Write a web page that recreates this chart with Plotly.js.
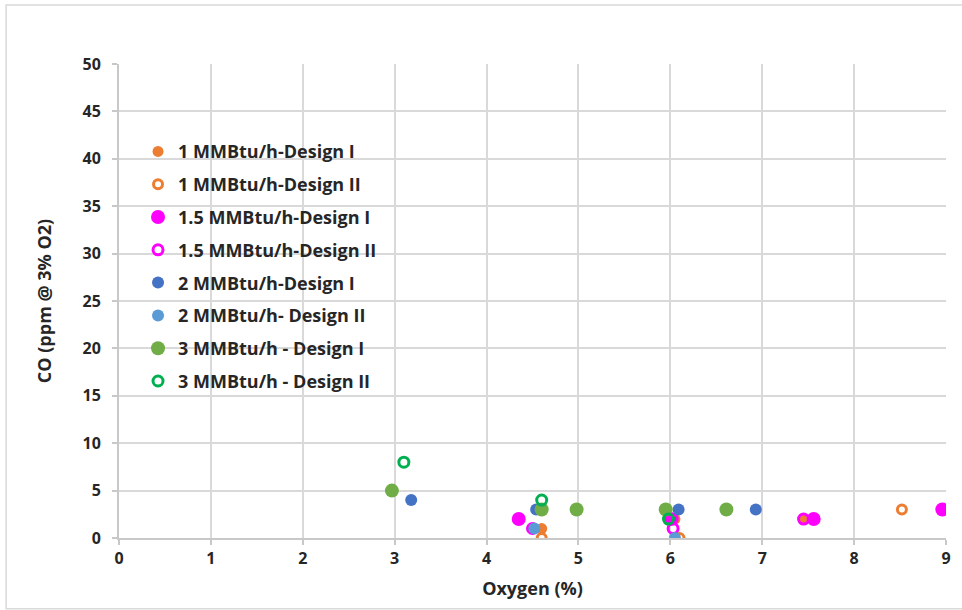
<!DOCTYPE html>
<html>
<head>
<meta charset="utf-8">
<script src="https://cdn.plot.ly/plotly-3.0.1.min.js"></script>
<style>html,body{margin:0;padding:0;background:#fff;}#chart{width:962px;height:610px;}</style>
</head>
<body>
<div id="chart"></div>
<script>
// Series names
const seriesNames = [
  "1 MMBtu/h-Design I",
  "1 MMBtu/h-Design II",
  "1.5 MMBtu/h-Design I",
  "1.5 MMBtu/h-Design II",
  "2 MMBtu/h-Design I",
  "2 MMBtu/h- Design II",
  "3 MMBtu/h - Design I",
  "3 MMBtu/h - Design II"
];
// Oxygen (%) and CO (ppm @ 3% O2) per series
const o2_1_I   = [4.6, 6.05, 7.45];
const co_1_I   = [1, 2, 2];
const o2_1_II  = [4.6, 6.1, 8.52];
const co_1_II  = [0, 0, 3];
const o2_15_I  = [4.35, 6.0, 7.56, 8.96];
const co_15_I  = [2, 2, 2, 3];
const o2_15_II = [4.5, 6.02, 6.03, 7.45];
const co_15_II = [1, 2, 1, 2];
const o2_2_I   = [3.18, 4.54, 6.09, 6.93];
const co_2_I   = [4, 3, 3, 3];
const o2_2_II  = [4.52, 6.05];
const co_2_II  = [1, 0];
const o2_3_I   = [2.97, 4.6, 4.98, 5.95, 6.61];
const co_3_I   = [5, 3, 3, 3, 3];
const o2_3_II  = [3.1, 4.6, 5.98];
const co_3_II  = [8, 4, 2];

const xTicks = [0,1,2,3,4,5,6,7,8,9];
const yTicks = [0,5,10,15,20,25,30,35,40,45,50];

const FONT = "'Open Sans', Lato, sans-serif";
const TXT = '#262626';

function filled(name, x, y, color, size) {
  return {type:'scatter', mode:'markers', name:name, x:x, y:y, legendgroup:name,
    marker:{symbol:'circle', color:color, size:size, line:{width:0}}};
}
function open(name, x, y, color, size) {
  return {type:'scatter', mode:'markers', name:name, x:x, y:y, legendgroup:name,
    marker:{symbol:'circle-open', color:color, size:size, line:{width:3, color:color}}};
}

const data = [
  filled(seriesNames[0], o2_1_I, co_1_I, '#ED7D31', 11),
  open(seriesNames[1], o2_1_II, co_1_II, '#ED7D31', 9),
  filled(seriesNames[2], o2_15_I, co_15_I, '#FF00FF', 14),
  open(seriesNames[3], o2_15_II, co_15_II, '#FF00FF', 10),
  filled(seriesNames[4], o2_2_I, co_2_I, '#4472C4', 12),
  filled(seriesNames[5], o2_2_II, co_2_II, '#5B9BD5', 12),
  filled(seriesNames[6], o2_3_I, co_3_I, '#70AD47', 14),
  open(seriesNames[7], o2_3_II, co_3_II, '#00B050', 10)
];

const layout = {
  width: 962, height: 610,
  margin: {l:119, r:16, t:64, b:72},
  paper_bgcolor: '#fff', plot_bgcolor: '#fff',
  font: {family: FONT, color:TXT, size:16},
  showlegend: true,
  legend: {
    x: 0.023, y: 0.854, xanchor:'left', yanchor:'top',
    bgcolor:'rgba(0,0,0,0)', borderwidth:0,
    traceorder:'grouped', tracegroupgap: 6.4,
    font:{family:FONT, size:18, color:TXT, weight:'bold'},
    itemwidth: 30
  },
  xaxis: {
    range:[0,9], tickvals:xTicks, ticktext:xTicks.map(String),
    showgrid:true, gridcolor:'#D9D9D9', gridwidth:2,
    showline:true, linecolor:'#C8C8C8', linewidth:2,
    ticks:'outside', ticklen:5, tickcolor:'#C8C8C8', tickwidth:2,
    zeroline:false,
    tickfont:{family:FONT, size:16, weight:'bold', color:TXT},
    title:{text:'Oxygen (%)', font:{family:FONT, size:18, weight:'bold', color:TXT}, standoff:14}
  },
  yaxis: {
    range:[0,50], tickvals:yTicks, ticktext:yTicks.map(String),
    showgrid:true, gridcolor:'#D9D9D9', gridwidth:2,
    showline:true, linecolor:'#C8C8C8', linewidth:2,
    ticks:'outside', ticklen:5, tickcolor:'#C8C8C8', tickwidth:2,
    zeroline:false, ticklabelstandoff: 8,
    tickfont:{family:FONT, size:16, weight:'bold', color:TXT},
    title:{text:'CO (ppm @ 3% O2)', font:{family:FONT, size:18, weight:'bold', color:TXT}, standoff:26}
  },
  shapes: [
    {type:'rect', xref:'paper', yref:'paper', x0:-0.1365, x1:1.05, y0:-0.1492, y1:1.1245,
     line:{color:'#D9D9D9', width:1.5}, fillcolor:'rgba(0,0,0,0)', layer:'below'}
  ]
};

Plotly.newPlot('chart', data, layout, {displayModeBar:false, staticPlot:true});
</script>
</body>
</html>
